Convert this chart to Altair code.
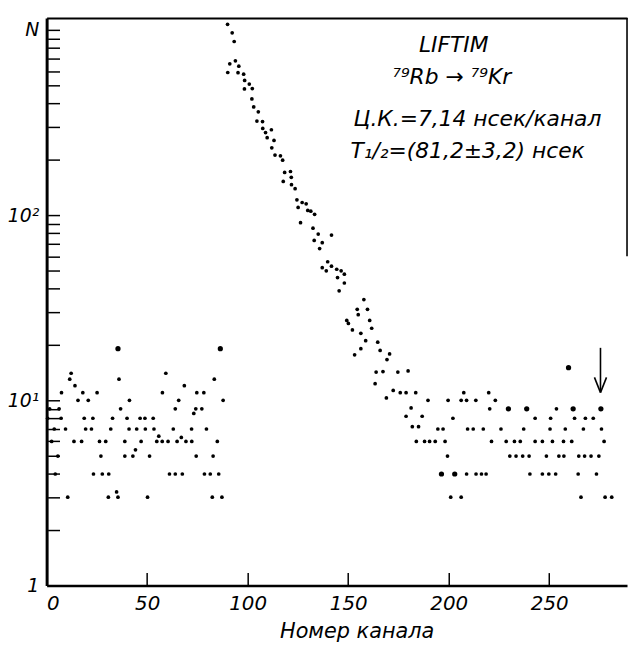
import altair as alt
import pandas as pd

# ---- data: (channel, counts) ----
left_bg = [(0.5, 8), (1.5, 9), (2.5, 6), (3.8, 7), (4.3, 4), (5.6, 5), (6.2, 9), (7.2, 8), (7.4, 11),
           (9.4, 7), (10.5, 3), (11.5, 13), (12.2, 14), (13.6, 6), (14.1, 12), (15.6, 10), (17.4, 6),
           (18.0, 11), (18.7, 8), (19.4, 7), (20.7, 10), (22.3, 7), (23.0, 8), (23.3, 4), (25.1, 11),
           (26.3, 6), (27.0, 5), (27.7, 4), (29.4, 6), (30.7, 3), (30.9, 4), (31.9, 7), (32.8, 8),
           (34.8, 3.2), (35.5, 3), (36.0, 13), (36.8, 9), (38.9, 6), (38.9, 5), (40.0, 8), (41.0, 7),
           (41.2, 10), (42.9, 5), (44.2, 5.4), (44.8, 7), (46.5, 8), (47.0, 6), (48.9, 8), (49.1, 7),
           (50.2, 3), (51.2, 5), (53.0, 8), (53.4, 7), (54.8, 6), (55.8, 6.4), (57.5, 6), (57.6, 11),
           (59.3, 14), (60.4, 6), (61.1, 4), (63.0, 7), (64.0, 9), (64.0, 4), (64.9, 6), (65.7, 10),
           (67.0, 6.3), (67.5, 4), (68.5, 12), (69.3, 6), (72.1, 7), (72.2, 6), (73.2, 8.5), (74.2, 9),
           (74.4, 5), (74.7, 11), (77.2, 9), (78.2, 11), (78.5, 4), (79.5, 7), (81.4, 4), (82.4, 3),
           (82.8, 5), (83.4, 13), (84.9, 6), (85.6, 4), (87.2, 3), (87.8, 10)]

decay = [(90.0, 1072), (92.3, 964), (93.3, 866), (93.9, 681), (91.1, 656), (95.6, 637), (90.1, 589),
         (95.2, 588), (98.0, 577), (98.5, 534), (100.8, 510), (98.4, 480), (102.3, 482), (102.1, 424),
         (103.0, 384), (105.3, 361), (104.6, 322), (107.4, 320), (107.5, 294), (111.8, 289),
         (108.9, 279), (109.7, 262), (113.1, 253), (112.0, 231), (113.6, 211), (116.3, 209),
         (117.4, 198), (118.4, 170), (121.3, 172), (117.7, 152), (121.7, 160), (121.8, 146),
         (123.6, 139), (124.5, 121), (127.1, 117), (129.1, 115), (125.1, 110), (129.9, 106),
         (131.4, 105), (133.3, 101), (126.3, 91), (132.5, 85), (135.1, 79), (141.7, 78), (133.1, 73),
         (137.1, 71), (135.8, 66), (139.8, 56), (137.1, 52), (139.1, 50), (141.7, 53), (144.3, 51),
         (146.5, 50), (148.1, 48), (144.7, 46), (148.1, 43), (145.5, 39), (157.8, 35), (154.5, 31),
         (159.6, 31), (155.0, 29), (149.3, 27), (160.7, 27), (150.1, 26), (152.1, 24), (161.7, 24.5),
         (156.3, 23), (158.7, 21), (164.7, 20.6), (156.3, 19), (165.9, 18.6), (153.2, 17.6),
         (170.6, 17.8), (169.3, 16.6), (163.9, 14.2), (167.3, 14.3), (174.7, 14.2), (179.8, 14.4),
         (163.4, 12.3), (172.4, 11.3), (175.9, 11), (178.8, 11), (183.6, 11), (169.0, 10.3),
         (181.3, 9.1), (178.8, 8.2), (186.8, 8.2), (181.9, 7.2), (185.0, 7.2), (183.9, 6), (188.0, 6),
         (190.5, 6), (193.3, 6)]

right_bg = [(189.7, 10), (194.6, 7), (197.2, 7), (198.2, 6), (199.4, 5), (199.7, 10), (201.0, 3),
            (202.1, 8), (206.2, 3), (206.2, 10), (207.5, 11), (208.9, 10), (208.9, 4), (209.4, 7),
            (212.2, 7), (213.5, 10), (213.6, 4), (216.3, 4), (218.6, 4), (217.2, 7), (219.9, 11),
            (220.4, 9), (221.3, 6), (223.2, 10), (226.0, 7), (228.6, 6), (230.4, 5), (232.7, 6),
            (233.5, 5), (235.6, 6), (236.8, 5), (237.3, 7), (240.0, 5), (240.4, 4), (243.0, 8),
            (243.0, 6), (246.6, 6), (246.6, 4), (248.6, 5), (249.8, 4), (250.4, 7), (250.7, 8),
            (251.6, 6), (253.2, 4), (253.6, 9), (254.8, 5), (257.1, 6), (257.3, 5), (258.0, 7),
            (261.2, 6), (262.6, 8), (264.4, 4), (264.7, 5), (265.8, 3), (267.0, 7), (267.6, 5),
            (268.0, 8), (270.8, 5), (271.9, 8), (273.5, 4), (274.7, 5), (276.0, 7), (277.3, 6),
            (277.8, 3), (281.1, 3)]

# points printed heavier in the original
heavy = [(35.5, 19), (86.4, 19), (196.4, 4), (203.0, 4), (229.7, 9), (238.8, 9), (259.6, 15),
         (261.9, 9), (275.7, 9)]

x_ticks = [50, 100, 150, 200, 250]
x_labels = [0, 50, 100, 150, 200, 250]
y_labels = [1, 10, 100, 1000]
y_minor = [1, 2, 3, 4, 5, 6, 7, 8, 9, 10, 20, 30, 40, 50, 60, 70, 80, 90, 100,
           200, 300, 400, 500, 600, 700, 800, 900, 1000]

# arrow marking a channel, and the partial right frame: (x, y, x2, y2)
segments = [(275.5, 19.2, 275.5, 11.2), (272.5, 13.3, 275.5, 11.0), (278.5, 13.3, 275.5, 11.0),
            (288.7, 60, 288.7, 1160)]

ann_text = ["LIFTIM", "⁷⁹Rb → ⁷⁹Kr", "Ц.К.=7,14 нсек/канал", "T₁/₂=(81,2±3,2) нсек"]
ann_ch = [202.5, 201.5, 214.3, 209.4]
ann_n = [832, 554, 330, 222]

# ---- build tables ----
pts = pd.DataFrame(left_bg + decay + right_bg, columns=["ch", "n"])
hv = pd.DataFrame(heavy, columns=["ch", "n"])
seg = pd.DataFrame(segments, columns=["x", "y", "x2", "y2"])
ann = pd.DataFrame({"t": ann_text, "ch": ann_ch, "n": ann_n})

FONT = "DejaVu Sans"
xs = alt.Scale(domain=[0, 288.7], nice=False, zero=False)
ys = alt.Scale(type="log", domain=[1, 1160], nice=False)

label_expr = ("datum.value == 1 ? '1' : datum.value == 10 ? '10\u00b9' : "
              "datum.value == 100 ? '10\u00b2' : 'N'")

main = alt.Chart(pts).mark_circle(size=14, color="black", opacity=1).encode(
    x=alt.X("ch:Q", scale=xs, axis=alt.Axis(
        orient="bottom", values=x_labels, ticks=False, grid=False, domain=True,
        domainColor="black", domainWidth=2.5, labelFont=FONT, labelFontSize=20,
        labelFontStyle="italic", labelColor="black", labelPadding=8,
        title="Номер канала", titleFont=FONT, titleFontSize=21, titleFontStyle="italic",
        titleFontWeight="normal", titleColor="black", titleX=313, titleY=53,
        titleAlign="center", titleBaseline="alphabetic")),
    y=alt.Y("n:Q", scale=ys, axis=alt.Axis(
        orient="left", values=y_labels, labelExpr=label_expr, ticks=False, grid=False,
        domain=True, domainColor="black", domainWidth=3, labelFont=FONT, labelFontSize=19,
        labelFontStyle="italic", labelColor="black", labelPadding=8, title=None)),
)

heavy_layer = alt.Chart(hv).mark_circle(size=28, color="black", opacity=1).encode(
    x=alt.X("ch:Q", scale=xs, axis=alt.Axis(
        orient="bottom", values=x_ticks, offset=-13, tickSize=13, tickWidth=1.5,
        tickColor="black", labels=False, domain=False, grid=False, title=None)),
    y=alt.Y("n:Q", scale=ys, axis=alt.Axis(
        orient="left", values=y_minor, offset=-13, tickSize=12, tickWidth=1.5,
        tickColor="black", labels=False, domain=False, grid=False, title=None)),
)

lines = alt.Chart(seg).mark_rule(color="black", strokeWidth=1.6).encode(
    x=alt.X("x:Q", scale=xs, axis=alt.Axis(
        orient="top", ticks=False, labels=False, domain=True, domainColor="black",
        domainWidth=2, grid=False, title=None)),
    x2="x2:Q",
    y=alt.Y("y:Q", scale=ys, axis=None),
    y2="y2:Q",
)

texts = alt.Chart(ann).mark_text(font=FONT, fontSize=22, fontStyle="italic", color="black",
                                 align="center", baseline="middle").encode(
    x=alt.X("ch:Q", scale=xs, axis=None),
    y=alt.Y("n:Q", scale=ys, axis=None),
    text="t:N",
)

chart = alt.layer(main, heavy_layer, lines, texts).resolve_axis(
    x="independent", y="independent"
).properties(
    width=586, height=573,
    autosize=alt.AutoSizeParams(type="none"),
    padding={"left": 39, "top": 7, "right": 2, "bottom": 57},
    background="white",
).configure_view(stroke=None)

chart.save("out.html", embed_options={"renderer": "svg", "actions": False})
